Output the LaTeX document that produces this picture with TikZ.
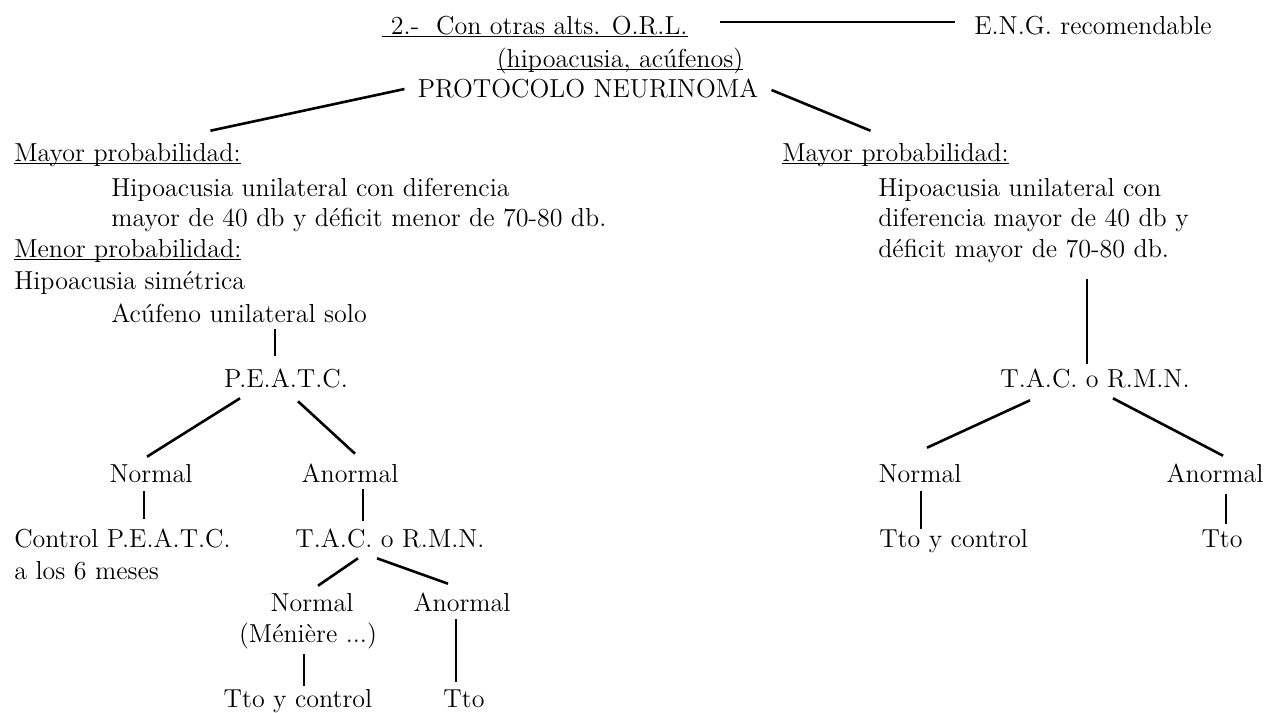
\documentclass[tikz,border=0pt]{standalone}
\usepackage{tikz}
\usetikzlibrary{calc}
\newcommand{\ulin}[1]{\underline{\smash{#1}}}

\begin{document}
\begin{tikzpicture}[x=0.5pt,y=-0.5pt,line width=1.3pt] %% tikz
	\tikzstyle{txt}=[inner sep=0pt,text height=12pt,text depth=3pt,font=\fontsize{13}{15}\selectfont];
	\useasboundingbox (0,0) rectangle (1267,712);
	%% heading
	\node[txt] (ORL) at (535,25) {\ulin{\ 2.-\ \ Con otras alts. O.R.L.}};
	\node[txt,anchor=west] (ENG) at (973,25) {E.N.G. recomendable};
	\node[txt] (HA) at (620,58) {\ulin{(hipoacusia, acúfenos)}};
	\node[txt] (PR) at (588,88) {PROTOCOLO NEURINOMA};
	%% left branch
	\node[txt,anchor=west] (ML) at (13,152) {\ulin{Mayor probabilidad:}};
	\node[txt,anchor=west] (H1) at (110,187) {Hipoacusia unilateral con diferencia};
	\node[txt,anchor=west] (H2) at (110,217) {mayor de 40 db y déficit menor de 70-80 db.};
	\node[txt,anchor=west] (MN) at (13,248) {\ulin{Menor probabilidad:}};
	\node[txt,anchor=west] (HS) at (13,280) {Hipoacusia simétrica};
	\node[txt,anchor=west] (AU) at (110,313) {Acúfeno unilateral solo};
	\node[txt] (PE) at (286,378) {P.E.A.T.C.};
	\node[txt] (N1) at (151,473) {Normal};
	\node[txt] (A1) at (350,473) {Anormal};
	\node[txt,anchor=west] (CP) at (13,538) {Control P.E.A.T.C.};
	\node[txt,anchor=west] (CM) at (13,570) {a los 6 meses};
	\node[txt] (T1) at (390,538) {T.A.C. o R.M.N.};
	\node[txt] (N2) at (312,602) {Normal};
	\node[txt] (MEN) at (308,633) {(Ménière ...)};
	\node[txt] (A2) at (462,602) {Anormal};
	\node[txt] (TC1) at (298,698) {Tto y control};
	\node[txt] (TT1) at (464,698) {Tto};
	%% right branch
	\node[txt,anchor=west] (MR) at (781,152) {\ulin{Mayor probabilidad:}};
	\node[txt,anchor=west] (R1) at (877,187) {Hipoacusia unilateral con};
	\node[txt,anchor=west] (R2) at (877,217) {diferencia mayor de 40 db y};
	\node[txt,anchor=west] (R3) at (877,248) {déficit mayor de 70-80 db.};
	\node[txt] (T2) at (1095,378) {T.A.C. o R.M.N.};
	\node[txt] (N3) at (920,473) {Normal};
	\node[txt] (A3) at (1215,473) {Anormal};
	\node[txt,anchor=west] (TC2) at (878,538) {Tto y control};
	\node[txt] (TT2) at (1222,538) {Tto};
	%% connectors
	\draw ($(ORL.east)+(31,-3)$) -- ($(ENG.west)+(-18,-3)$);
	\draw ($(PR.west)+(-12,1)$) -- ($(ML.north)+(83,-5)$);
	\draw ($(PR.east)+(12,2)$) -- ($(MR.north)+(-25,-5)$);
	\draw ($(AU.south -| PE.north)+(-11,0)$) -- ($(PE.north)+(-11,-6)$);
	\draw ($(PE.south)+(-46,4)$) -- ($(N1.north)+(-4,0)$);
	\draw ($(PE.south)+(12,7)$) -- ($(A1.north)+(5,-3)$);
	\draw ($(N1.south)+(-7,2)$) -- ($(N1.south |- CP.north)+(-7,-3)$);
	\draw ($(A1.south)+(13,0)$) -- ($(A1.south |- T1.north)+(13,-1)$);
	\draw ($(T1.south)+(-32,4)$) -- ($(N2.north)+(6,0)$);
	\draw ($(T1.south)+(-13,4)$) -- ($(A2.north)+(-14,-2)$);
	\draw ($(MEN.south)+(-4,5)$) -- ($(MEN.south |- TC1.north)+(-4,4)$);
	\draw ($(A2.south)+(-6,1)$) -- ($(A2.south |- TT1.north)+(-6,0)$);
	\draw ($(R3.south -| T2.north)+(-8,15)$) -- ($(T2.north)+(-8,2)$);
	\draw ($(T2.south)+(-65,6)$) -- ($(N3.north)+(7,-9)$);
	\draw ($(T2.south)+(18,4)$) -- ($(A3.north)+(8,-1)$);
	\draw ($(N3.south)+(1,2)$) -- ($(N3.south |- TC2.north)+(1,7)$);
	\draw ($(A3.south)+(11,5)$) -- ($(A3.south |- TT2.north)+(11,2)$);
\end{tikzpicture}
\end{document}
